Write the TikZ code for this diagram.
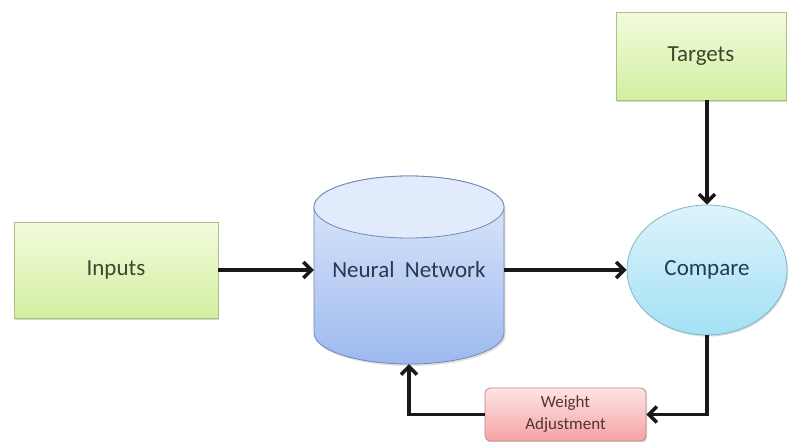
\documentclass[tikz,border=0pt]{standalone}
\usepackage{fontspec}
\setmainfont{Carlito}
\usetikzlibrary{arrows.meta,shapes.geometric,shadows}

\definecolor{greenTop}{HTML}{F2FBDD}
\definecolor{greenBot}{HTML}{D3EFA0}
\definecolor{greenLine}{HTML}{A8C283}
\definecolor{greenText}{HTML}{3C4730}
\definecolor{blueTop}{HTML}{E2EBFB}
\definecolor{blueBot}{HTML}{9DB9EF}
\definecolor{blueLine}{HTML}{7088B4}
\definecolor{blueText}{HTML}{2B3650}
\definecolor{cyanTop}{HTML}{DDF3FB}
\definecolor{cyanBot}{HTML}{A3E1F5}
\definecolor{cyanLine}{HTML}{7DB7C9}
\definecolor{cyanText}{HTML}{1F3F4C}
\definecolor{redTop}{HTML}{FDE4E4}
\definecolor{redBot}{HTML}{F4A3A3}
\definecolor{redLine}{HTML}{C98585}
\definecolor{redText}{HTML}{553434}

\tikzset{
  softshadow/.style={drop shadow={shadow xshift=1pt,shadow yshift=-1.5pt,opacity=0.25,fill=black!60}},
  greenbox/.style={rectangle, draw=greenLine, line width=0.8pt, top color=greenTop, bottom color=greenBot,
    text=greenText, font=\fontsize{23}{27}\selectfont, inner sep=0pt, softshadow},
  ellipsebox/.style={ellipse, draw=cyanLine, line width=0.8pt, top color=cyanTop, bottom color=cyanBot,
    text=cyanText, font=\fontsize{23}{27}\selectfont, inner sep=0pt, softshadow},
  redbox/.style={rectangle, rounded corners=5pt, draw=redLine, line width=0.8pt, top color=redTop, bottom color=redBot,
    text=redText, font=\fontsize{17}{22}\selectfont, align=center, inner sep=0pt, softshadow},
  flow/.style={line width=3.5pt, black!90, -{Straight Barb[length=8pt,width=16pt,line width=3.5pt]}},
}

\begin{document}
\begin{tikzpicture}[x=1pt,y=-1pt]
\useasboundingbox (0,0) rectangle (788,442);
\fill[white] (0,0) rectangle (788,442);

% green input and target boxes
\node[greenbox, minimum width=204pt, minimum height=96pt] (inp) at (116,270) {Inputs};
\node[greenbox, minimum width=170pt, minimum height=88pt] (tgt) at (701,56) {Targets};

% cylinder for the neural network (y axis points down, so arcs run 180 -> 0 along the bottom)
\fill[black!60, opacity=0.2] (315.5,209) -- (315.5,335) arc[start angle=180,end angle=0,x radius=95,y radius=31] -- (505.5,209) -- cycle;
\shade[top color=blueTop, bottom color=blueBot, draw=blueLine, line width=0.8pt]
  (314,207) -- (314,333) arc[start angle=180,end angle=0,x radius=95,y radius=31]
  -- (504,207) arc[start angle=0,end angle=-180,x radius=95,y radius=31] -- cycle;
\fill[blueTop] (409,207) ellipse[x radius=95,y radius=31];
\draw[blueLine, line width=0.8pt] (409,207) ellipse[x radius=95,y radius=31];
\node[minimum width=190pt, minimum height=188pt, inner sep=0pt, text=blueText,
      font=\fontsize{23}{27}\selectfont] (nn) at (409,270) {Neural\ \ Network};

% comparison ellipse
\node[ellipsebox, minimum width=160pt, minimum height=130pt] (cmp) at (707,270) {Compare};

% weight adjustment box
\node[redbox, minimum width=161pt, minimum height=53pt] (wa) at (565.5,414.5) {Weight\\Adjustment};

% connectors
\draw[flow] (inp.east) -- (nn.west);
\draw[flow] (nn.east) -- (cmp.west);
\draw[flow] (cmp.north |- tgt.south) -- (cmp.north);
\draw[flow] (cmp.south) |- (wa.east);
\draw[flow] (wa.west) -| (nn.south);
\end{tikzpicture}
\end{document}
